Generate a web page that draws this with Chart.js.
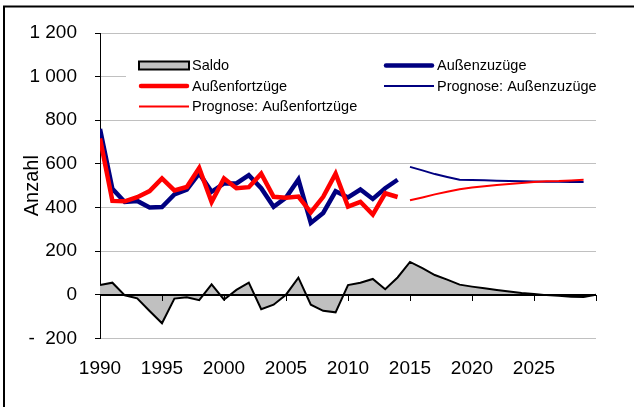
<!DOCTYPE html>
<html>
<head>
<meta charset="utf-8">
<style>
html,body{margin:0;padding:0;background:#fff;}
canvas{display:block;}
</style>
<script src="https://cdn.jsdelivr.net/npm/chart.js@4.4.1/dist/chart.umd.min.js"></script>
</head>
<body>
<canvas id="c" width="634" height="407"></canvas>
<script>
// ---- data ----
const years = [1990,1991,1992,1993,1994,1995,1996,1997,1998,1999,2000,2001,2002,2003,2004,2005,2006,2007,2008,2009,2010,2011,2012,2013,2014];
const zuzuege = [760,485,425,430,400,402,460,482,556,472,510,510,548,488,403,445,528,329,375,474,446,482,439,488,527];
const fortzuege = [716,430,428,447,475,533,478,494,581,425,533,488,493,555,449,445,450,377,449,555,404,426,367,465,448];
const progYears = [2015,2016,2017,2018,2019,2020,2021,2022,2023,2024,2025,2026,2027,2028,2029];
const progZuzuege = [586,570,553,540,527,526,525,523,521,520,519,518,518,517,517];
const progFortzuege = [433,446,460,472,483,491,497,503,508,512,517,520,521,524,527];
const saldoYears = [1990,1991,1992,1993,1994,1995,1996,1997,1998,1999,2000,2001,2002,2003,2004,2005,2006,2007,2008,2009,2010,2011,2012,2013,2014,2015,2016,2017,2018,2019,2020,2021,2022,2023,2024,2025,2026,2027,2028,2029,2030];
const saldo = [44,55,-3,-17,-75,-131,-18,-12,-25,47,-23,22,55,-67,-46,0,78,-46,-74,-81,44,55,72,25,79,150,122,90,69,46,37,29,22,15,8,3,-2,-5,-9,-11,0];
const xTickLabels = ['1990','1995','2000','2005','2010','2015','2020','2025'];
const yTickLabels = {'-200':'-  200','0':'0','200':'200','400':'400','600':'600','800':'800','1000':'1 000','1200':'1 200'};
const labels = ['Saldo','Außenzuzüge','Außenfortzüge','Prognose: Außenzuzüge','Prognose: Außenfortzüge'];
const yTitle = 'Anzahl';

const pts = (xs, ys) => xs.map((x, i) => ({x: x, y: ys[i]}));
const FONT = 'Liberation Sans, Arial, Helvetica, sans-serif';

const excelPlugin = {
  id: 'excelLook',
  beforeDraw(chart) {
    const ctx = chart.ctx;
    ctx.save();
    ctx.fillStyle = '#fff';
    ctx.fillRect(0, 0, chart.width, chart.height);
    ctx.strokeStyle = '#000';
    ctx.lineWidth = 2;
    ctx.beginPath();
    ctx.moveTo(4, chart.height + 5);
    ctx.lineTo(4, 6.5);
    ctx.lineTo(chart.width + 5, 6.5);
    ctx.stroke();
    ctx.restore();
  },
  afterDatasetsDraw(chart) {
    const {ctx, chartArea, scales} = chart;
    const x = scales.x, y = scales.y;
    const y0 = Math.round(y.getPixelForValue(0));
    ctx.save();
    ctx.strokeStyle = '#000';
    ctx.lineWidth = 2;
    ctx.beginPath();
    ctx.moveTo(chartArea.left, y0);
    ctx.lineTo(chartArea.right, y0);
    ctx.stroke();
    ctx.lineWidth = 1;
    x.ticks.forEach(t => {
      const px = Math.round(x.getPixelForValue(t.value)) + 0.5;
      ctx.beginPath();
      ctx.moveTo(px, y0);
      ctx.lineTo(px, y0 + 6);
      ctx.stroke();
    });
    ctx.restore();
  },
  afterDraw(chart) {
    const ctx = chart.ctx;
    const o = chart.options.plugins.excelLook;
    ctx.save();
    ctx.fillStyle = '#fff';
    ctx.fillRect(o.box[0], o.box[1], o.box[2], o.box[3]);
    ctx.font = o.font;
    ctx.textBaseline = 'middle';
    ctx.textAlign = 'left';
    chart.data.datasets.forEach((ds, i) => {
      const col = i % 2, row = Math.floor(i / 2);
      const sx = o.cols[col], sy = o.rows[row];
      if (ds.fill) {
        ctx.fillStyle = ds.backgroundColor;
        ctx.fillRect(sx, sy - 4, o.symbolWidth, 8);
        ctx.strokeStyle = ds.borderColor;
        ctx.lineWidth = ds.borderWidth;
        ctx.strokeRect(sx, sy - 4, o.symbolWidth, 8);
      } else {
        ctx.strokeStyle = ds.borderColor;
        ctx.lineWidth = ds.borderWidth;
        ctx.lineCap = ds.borderWidth > 3 ? 'round' : 'butt';
        ctx.beginPath();
        ctx.moveTo(sx + (ds.borderWidth > 3 ? 2 : 0), sy);
        ctx.lineTo(sx + o.symbolWidth - (ds.borderWidth > 3 ? 2 : 0), sy);
        ctx.stroke();
      }
      ctx.fillStyle = '#000';
      ctx.fillText(ds.label, sx + o.symbolWidth + 3, sy + 0.5);
    });
    ctx.restore();
  }
};

new Chart(document.getElementById('c'), {
  type: 'line',
  data: {
    datasets: [
      {label: labels[0], data: pts(saldoYears, saldo), borderColor: '#000', borderWidth: 2, backgroundColor: '#c0c0c0', fill: 'origin', pointRadius: 0, tension: 0, order: 5},
      {label: labels[1], data: pts(years, zuzuege), borderColor: '#000080', borderWidth: 4.5, fill: false, pointRadius: 0, tension: 0, order: 4},
      {label: labels[2], data: pts(years, fortzuege), borderColor: '#ff0000', borderWidth: 4.5, fill: false, pointRadius: 0, tension: 0, order: 3},
      {label: labels[3], data: pts(progYears, progZuzuege), borderColor: '#000080', borderWidth: 2, fill: false, pointRadius: 0, tension: 0, order: 2},
      {label: labels[4], data: pts(progYears, progFortzuege), borderColor: '#ff0000', borderWidth: 2, fill: false, pointRadius: 0, tension: 0, order: 1}
    ]
  },
  options: {
    responsive: false,
    animation: false,
    devicePixelRatio: 1,
    layout: {padding: {top: 33, right: 38, left: 0, bottom: 0}},
    plugins: {
      legend: {display: false},
      tooltip: {enabled: false},
      excelLook: {
        box: [126, 49, 520, 67],
        cols: [139, 384],
        rows: [65.5, 86, 106.5],
        symbolWidth: 50,
        font: '14.5px ' + FONT
      }
    },
    scales: {
      x: {
        type: 'linear',
        min: 1990,
        max: 2030,
        afterFit: s => { s.height = 68.7; },
        afterBuildTicks: s => { s.ticks = s.ticks.filter(t => t.value % 5 === 0); },
        ticks: {
          stepSize: 5,
          autoSkip: false,
          maxRotation: 0,
          color: '#000',
          font: {family: FONT, size: 19},
          padding: 19,
          callback: v => { const s = String(v); return xTickLabels.includes(s) ? s : ''; }
        },
        grid: {display: false, drawTicks: false},
        border: {display: false}
      },
      y: {
        min: -200,
        max: 1200,
        afterFit: s => { s.width = 100; },
        ticks: {
          stepSize: 200,
          color: '#000',
          font: {family: FONT, size: 19},
          padding: 18,
          callback: v => yTickLabels[String(v)] !== undefined ? yTickLabels[String(v)] : ''
        },
        grid: {
          color: '#c0c0c0',
          lineWidth: 1,
          drawTicks: true,
          tickLength: 5,
          tickColor: '#000',
          tickWidth: 1
        },
        border: {display: true, color: '#000', width: 1},
        title: {
          display: true,
          text: yTitle,
          color: '#000',
          font: {family: FONT, size: 20},
          padding: {top: 20, bottom: 0}
        }
      }
    }
  },
  plugins: [excelPlugin]
});
</script>
</body>
</html>
